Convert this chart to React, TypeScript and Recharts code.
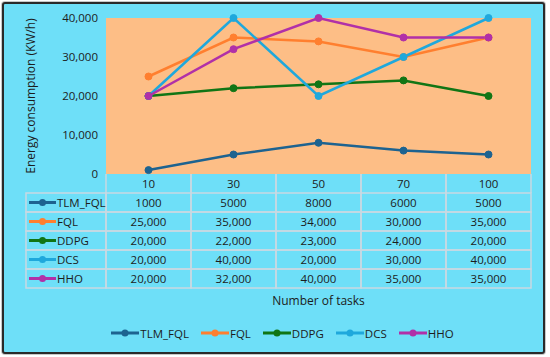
import React from 'react';
import {
  LineChart,
  Line,
  XAxis,
  YAxis,
  CartesianGrid,
  Legend,
} from 'recharts';

const tasks = ['10', '30', '50', '70', '100'];
const tlmFql = [1000, 5000, 8000, 6000, 5000];
const fql = [25000, 35000, 34000, 30000, 35000];
const ddpg = [20000, 22000, 23000, 24000, 20000];
const dcs = [20000, 40000, 20000, 30000, 40000];
const hho = [20000, 32000, 40000, 35000, 35000];
const yTicks = [0, 10000, 20000, 30000, 40000];

const series = [
  { key: 'TLM_FQL', values: tlmFql, color: '#1D6390', comma: false },
  { key: 'FQL', values: fql, color: '#FF7F2F', comma: true },
  { key: 'DDPG', values: ddpg, color: '#117515', comma: true },
  { key: 'DCS', values: dcs, color: '#1FA8DC', comma: true },
  { key: 'HHO', values: hho, color: '#B130A8', comma: true },
];

const data = tasks.map((t, i) => {
  const row: any = { task: t };
  series.forEach((s) => (row[s.key] = s.values[i]));
  return row;
});

const FONT = '"Open Sans", sans-serif';
const TEXT = '#1c1c1c';
const GRID = '#C9D9E2';
const BAND = 85;
const ROW = 19;
const LABEL_COL = 80;

const fmt = (v: number, comma: boolean) =>
  comma ? v.toLocaleString('en-US') : String(v);

// each x tick draws one column of the data table
const TableTick = (props: any) => {
  const { x, y, payload, index } = props;
  const i = tasks.indexOf(payload.value);
  const left = x - BAND / 2;
  return (
    <g>
      <line x1={left} y1={y} x2={left} y2={y + ROW} stroke={GRID} strokeWidth={1.5} />
      <line x1={left + BAND} y1={y} x2={left + BAND} y2={y + ROW} stroke={GRID} strokeWidth={1.5} />
      <text x={x} y={y + ROW / 2 + 4} textAnchor="middle" fontSize={11.5} fill={TEXT} fontFamily={FONT}>
        {payload.value}
      </text>
      {series.map((s, r) => (
        <g key={s.key}>
          <rect x={left} y={y + ROW * (r + 1)} width={BAND} height={ROW} fill="none" stroke={GRID} strokeWidth={1.5} />
          <text
            x={x}
            y={y + ROW * (r + 1) + ROW / 2 + 4}
            textAnchor="middle"
            fontSize={11.5}
            fill={TEXT}
            fontFamily={FONT}
          >
            {fmt(s.values[i], s.comma)}
          </text>
        </g>
      ))}
      {index === 0 &&
        series.map((s, r) => {
          const lx = left - LABEL_COL;
          const ry = y + ROW * (r + 1);
          return (
            <g key={'l' + s.key}>
              <rect x={lx} y={ry} width={LABEL_COL} height={ROW} fill="none" stroke={GRID} strokeWidth={1.5} />
              <line x1={lx + 3} y1={ry + ROW / 2} x2={lx + 30} y2={ry + ROW / 2} stroke={s.color} strokeWidth={3} />
              <circle cx={lx + 16.5} cy={ry + ROW / 2} r={3.5} fill={s.color} />
              <text x={lx + 31} y={ry + ROW / 2 + 4} fontSize={11.5} fill={TEXT} fontFamily={FONT}>
                {s.key}
              </text>
            </g>
          );
        })}
    </g>
  );
};

const YLabel = (props: any) => {
  const vb = props.viewBox || {};
  const cx = vb.x - 16;
  const cy = vb.y + vb.height / 2;
  return (
    <text
      x={cx}
      y={cy}
      transform={`rotate(-90 ${cx} ${cy})`}
      textAnchor="middle"
      dominantBaseline="central"
      fontSize={12}
      fill={TEXT}
      fontFamily={FONT}
    >
      Energy consumption (KW/h)
    </text>
  );
};

const LegendContent = () => (
  <div
    style={{
      display: 'flex',
      justifyContent: 'center',
      alignItems: 'center',
      fontFamily: FONT,
      fontSize: 11.5,
      color: TEXT,
      height: 20,
    }}
  >
    {series.map((s) => (
      <div key={s.key} style={{ display: 'flex', alignItems: 'center', marginRight: 12 }}>
        <svg width={28} height={10}>
          <line x1={0} y1={5} x2={28} y2={5} stroke={s.color} strokeWidth={3} />
          <circle cx={14} cy={5} r={3.5} fill={s.color} />
        </svg>
        <span style={{ marginLeft: 1 }}>{s.key}</span>
      </div>
    ))}
  </div>
);

export default function App() {
  return (
    <div style={{ position: 'absolute', left: 0, top: 0, width: 550, height: 357, background: '#ffffff' }}>
      <div
        style={{
          position: 'absolute',
          left: 2,
          top: 2,
          width: 543,
          height: 352,
          boxSizing: 'border-box',
          background: '#6EDFF8',
          border: '2px solid #2a2a2a',
          borderRadius: 3,
          boxShadow: '0 0 0 1px #c8c8c8',
        }}
      />
      <div style={{ position: 'absolute', left: 0, top: 0 }}>
        {/* @ts-ignore */}
        <LineChart width={550} height={357} data={data} margin={{ top: 18, right: 19, left: 46, bottom: 14 }}>
          {/* @ts-ignore */}
          <CartesianGrid fill="#FDBE86" stroke="none" horizontal={false} vertical={false} />
          {/* @ts-ignore */}
          <XAxis
            dataKey="task"
            height={149}
            padding={{ left: BAND / 2, right: BAND / 2 }}
            axisLine={false}
            tickLine={false}
            tickSize={0}
            tickMargin={0}
            interval={0}
            tick={<TableTick />}
            label={{
              value: 'Number of tasks',
              position: 'insideBottom',
              offset: 18,
              style: { fontSize: 12, fill: TEXT, fontFamily: FONT },
            }}
          />
          {/* @ts-ignore */}
          <YAxis
            width={60}
            domain={[0, 40000]}
            ticks={yTicks}
            axisLine={false}
            tickLine={false}
            tickSize={0}
            tickMargin={8}
            tickFormatter={(v: number) => v.toLocaleString('en-US')}
            tick={{ fontSize: 11.5, fill: TEXT, fontFamily: FONT }}
            label={<YLabel />}
          />
          {/* @ts-ignore */}
          <Legend verticalAlign="bottom" content={<LegendContent />} wrapperStyle={{ height: 20 }} />
          {series.map((s) => (
            // @ts-ignore
            <Line
              key={s.key}
              dataKey={s.key}
              stroke={s.color}
              strokeWidth={2.5}
              dot={{ r: 3.5, fill: s.color, stroke: s.color, strokeWidth: 1 }}
              isAnimationActive={false}
            />
          ))}
        </LineChart>
      </div>
    </div>
  );
}
